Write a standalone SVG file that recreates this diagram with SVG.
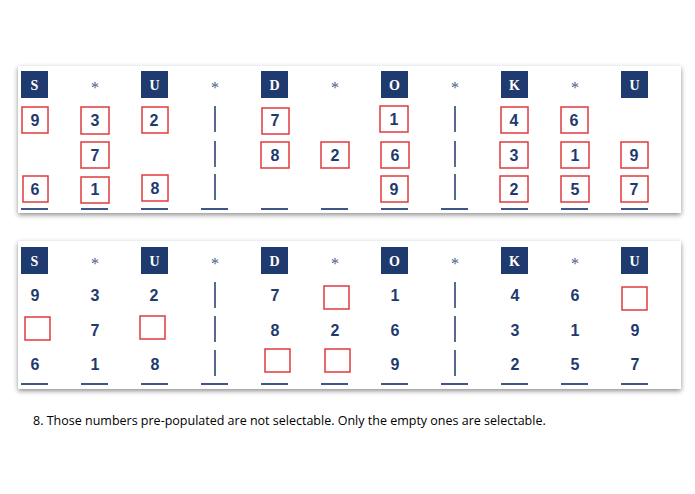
<svg xmlns="http://www.w3.org/2000/svg" width="695" height="494" viewBox="0 0 695 494">
<defs>
<filter id="sh" x="-5%" y="-10%" width="110%" height="125%"><feDropShadow dx="0" dy="2" stdDeviation="2.5" flood-color="#000" flood-opacity="0.45"/></filter>
</defs>
<style>
.p{fill:#fff;filter:url(#sh)}
.h{fill:#1f3a6e}
.ht{fill:#fff;font-family:"Liberation Serif",serif;font-size:14px;font-weight:bold;text-anchor:middle}
.st{fill:#4a5e8c;font-family:"Liberation Serif",serif;font-size:16px;text-anchor:middle}
.n{fill:#1f3a6e;font-family:"Liberation Sans",sans-serif;font-size:16px;font-weight:bold;text-anchor:middle}
.b{fill:none;stroke:#e03a3e;stroke-width:1.5}
.u{stroke:#3f5588;stroke-width:2}
.v{stroke:#1f3a6e;stroke-width:1.5}
</style>
<rect id="panel1" class="p" x="18" y="66" width="663" height="147"/>
<rect id="panel2" class="p" x="18" y="241" width="663" height="148"/>
<g id="headers">
<g id="h1"><rect class="h" x="21" y="71" width="27" height="27"/><text class="ht" x="34.5" y="90">S</text><text class="st" x="95" y="93">*</text><rect class="h" x="141" y="71" width="27" height="27"/><text class="ht" x="154.5" y="90">U</text><text class="st" x="215" y="93">*</text><rect class="h" x="261" y="71" width="27" height="27"/><text class="ht" x="274.5" y="90">D</text><text class="st" x="335" y="93">*</text><rect class="h" x="381" y="71" width="27" height="27"/><text class="ht" x="394.5" y="90">O</text><text class="st" x="455" y="93">*</text><rect class="h" x="501" y="71" width="27" height="27"/><text class="ht" x="514.5" y="90">K</text><text class="st" x="575" y="93">*</text><rect class="h" x="621" y="71" width="27" height="27"/><text class="ht" x="634.5" y="90">U</text></g>
<g id="h2"><rect class="h" x="21" y="247" width="27" height="27"/><text class="ht" x="34.5" y="266">S</text><text class="st" x="95" y="269">*</text><rect class="h" x="141" y="247" width="27" height="27"/><text class="ht" x="154.5" y="266">U</text><text class="st" x="215" y="269">*</text><rect class="h" x="261" y="247" width="27" height="27"/><text class="ht" x="274.5" y="266">D</text><text class="st" x="335" y="269">*</text><rect class="h" x="381" y="247" width="27" height="27"/><text class="ht" x="394.5" y="266">O</text><text class="st" x="455" y="269">*</text><rect class="h" x="501" y="247" width="27" height="27"/><text class="ht" x="514.5" y="266">K</text><text class="st" x="575" y="269">*</text><rect class="h" x="621" y="247" width="27" height="27"/><text class="ht" x="634.5" y="266">U</text></g>
</g>
<g id="lines">
<path class="v" d="M215 106V132M215 141V167M215 174V200M455 106V132M455 141V167M455 174V200M215 282V308M215 316V342M215 350V376M455 282V308M455 316V342M455 350V376"/>
<path class="u" d="M21 209H48M81 209H108M141 209H168M201 209H228M261 209H288M321 209H348M381 209H408M441 209H468M501 209H528M561 209H588M621 209H648M21 384H48M81 384H108M141 384H168M201 384H228M261 384H288M321 384H348M381 384H408M441 384H468M501 384H528M561 384H588M621 384H648"/>
</g>
<g id="grid1">
<rect class="b" x="22" y="107" width="26" height="26"/><text class="n" x="35" y="126">9</text>
<rect class="b" x="81" y="107" width="28" height="27"/><text class="n" x="95" y="126">3</text>
<rect class="b" x="142" y="107" width="26" height="26"/><text class="n" x="154" y="126">2</text>
<rect class="b" x="262" y="108" width="27" height="26"/><text class="n" x="275" y="126">7</text>
<rect class="b" x="380" y="106" width="28" height="26"/><text class="n" x="394" y="125">1</text>
<rect class="b" x="501" y="107" width="27" height="26"/><text class="n" x="514" y="126">4</text>
<rect class="b" x="561" y="107" width="27" height="26"/><text class="n" x="574" y="126">6</text>
<rect class="b" x="81" y="142" width="28" height="26"/><text class="n" x="95" y="161">7</text>
<rect class="b" x="261" y="142" width="28" height="26"/><text class="n" x="275" y="161">8</text>
<rect class="b" x="321" y="142" width="28" height="26"/><text class="n" x="335" y="161">2</text>
<rect class="b" x="381" y="142" width="28" height="26"/><text class="n" x="395" y="161">6</text>
<rect class="b" x="500" y="142" width="28" height="26"/><text class="n" x="514" y="161">3</text>
<rect class="b" x="561" y="142" width="28" height="26"/><text class="n" x="575" y="161">1</text>
<rect class="b" x="621" y="142" width="27" height="26"/><text class="n" x="634" y="161">9</text>
<rect class="b" x="23" y="176" width="25" height="26"/><text class="n" x="35" y="195">6</text>
<rect class="b" x="81" y="177" width="28" height="26"/><text class="n" x="95" y="195">1</text>
<rect class="b" x="142" y="175" width="26" height="26"/><text class="n" x="155" y="194">8</text>
<rect class="b" x="381" y="176" width="27" height="26"/><text class="n" x="394" y="195">9</text>
<rect class="b" x="500" y="176" width="28" height="26"/><text class="n" x="514" y="195">2</text>
<rect class="b" x="561" y="176" width="28" height="26"/><text class="n" x="575" y="195">5</text>
<rect class="b" x="621" y="176" width="27" height="26"/><text class="n" x="634" y="195">7</text>
</g>
<g id="grid2">
<text class="n" x="35" y="301">9</text><text class="n" x="95" y="301">3</text><text class="n" x="154" y="301">2</text><text class="n" x="275" y="301">7</text><rect class="b" x="324" y="286" width="25" height="23"/><text class="n" x="395" y="301">1</text><text class="n" x="515" y="301">4</text><text class="n" x="575" y="301">6</text><rect class="b" x="622" y="287" width="25" height="23"/>
<rect class="b" x="25" y="317" width="25" height="23"/><text class="n" x="95" y="336">7</text><rect class="b" x="140" y="316" width="25" height="23"/><text class="n" x="275" y="336">8</text><text class="n" x="335" y="336">2</text><text class="n" x="395" y="336">6</text><text class="n" x="515" y="336">3</text><text class="n" x="575" y="336">1</text><text class="n" x="635" y="336">9</text>
<text class="n" x="35" y="370">6</text><text class="n" x="95" y="370">1</text><text class="n" x="155" y="370">8</text><rect class="b" x="265" y="349" width="25" height="23"/><rect class="b" x="325" y="349" width="25" height="23"/><text class="n" x="395" y="370">9</text><text class="n" x="515" y="370">2</text><text class="n" x="575" y="370">5</text><text class="n" x="635" y="370">7</text>
</g>
<text x="33" y="425" font-family="'Open Sans','Liberation Sans',sans-serif" font-size="12.5" fill="#000">8. Those numbers pre-populated are not selectable. Only the empty ones are selectable.</text>
</svg>
